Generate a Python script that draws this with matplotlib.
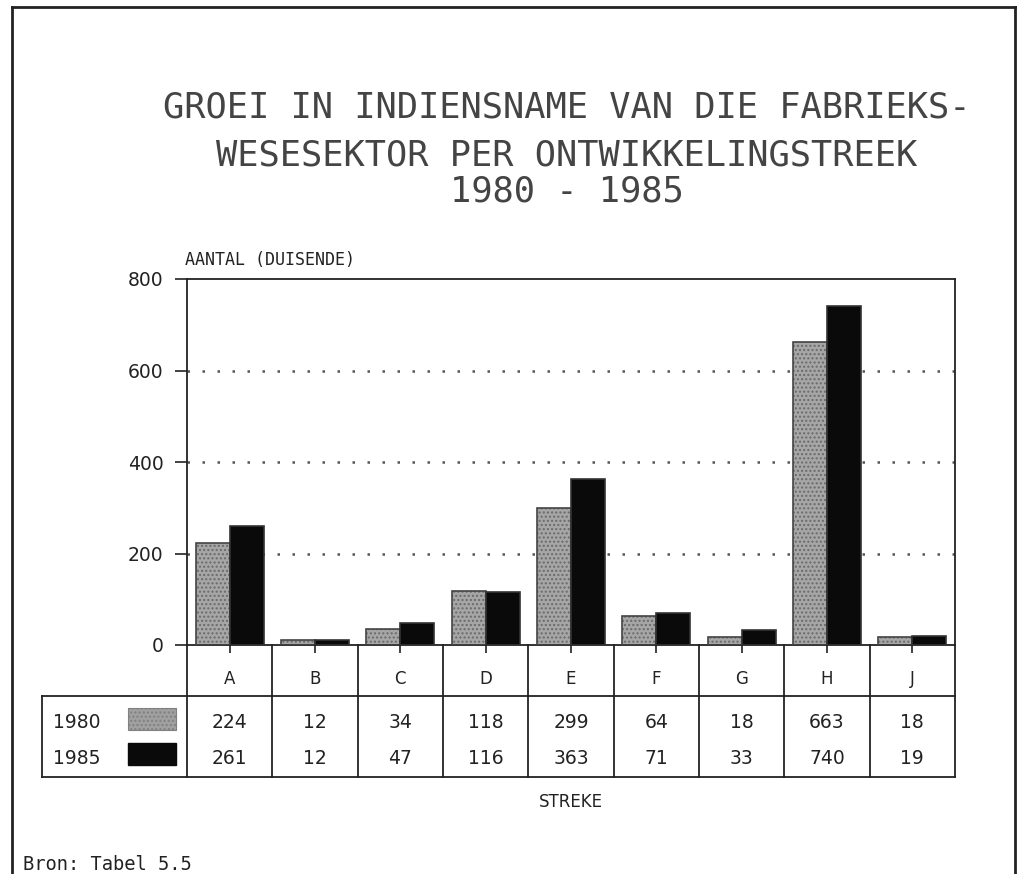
import numpy as np
import matplotlib
matplotlib.use("Agg")
import matplotlib.pyplot as plt
from matplotlib.lines import Line2D

# data
regions = ['A', 'B', 'C', 'D', 'E', 'F', 'G', 'H', 'J']
years = ['1980', '1985']
v1980 = [224, 12, 34, 118, 299, 64, 18, 663, 18]
v1985 = [261, 12, 47, 116, 363, 71, 33, 740, 19]
yticks = [0, 200, 400, 600, 800]

title_lines = ['GROEI IN INDIENSNAME VAN DIE FABRIEKS-',
               'WESESEKTOR PER ONTWIKKELINGSTREEK',
               '1980 - 1985']

ink = '#222222'
mono = 'DejaVu Sans Mono'

fig = plt.figure(figsize=(10.17, 8.74), dpi=100)
ax = fig.add_axes([187/1017, 1-645/874, 768/1017, 366/874])

x = np.arange(len(regions))
w = 0.4

# gray stippled bars (hatch only, then outline)
ax.bar(x - w/2, v1980, w, color='#a6a6a6', hatch='....', edgecolor='#6a6a6a',
       linewidth=0, zorder=2)
ax.bar(x - w/2, v1980, w, fill=False, edgecolor='#444444', linewidth=1.2, zorder=3)
ax.bar(x + w/2, v1985, w, color='#0a0a0a', edgecolor='#333333', linewidth=1.2, zorder=3)

ax.set_xlim(-0.5, len(regions) - 0.5)
ax.set_ylim(0, 800)
ax.set_yticks(yticks)
ax.set_yticklabels([str(t) for t in yticks], fontsize=13.5, color=ink)
ax.set_xticks(x)
ax.set_xticklabels([])
ax.tick_params(axis='y', direction='out', length=9, width=1.2, pad=8, colors=ink)
ax.tick_params(axis='x', direction='out', length=6, width=1.2, colors=ink)
for s in ax.spines.values():
    s.set_linewidth(1.3)
    s.set_color(ink)

for g in yticks[1:-1]:
    ax.axhline(g, color='#555555', linestyle=(0, (1, 5)), linewidth=1.8, zorder=1)

# table below the axis
kw = dict(transform=ax.transAxes, clip_on=False, color=ink, linewidth=1.3)
row1 = -0.139
bottom = -0.361
left = -0.189
ax.plot([left, 1], [row1, row1], **kw)
ax.plot([left, 1], [bottom, bottom], **kw)
ax.plot([left, left], [row1, bottom], **kw)
xt = ax.get_xaxis_transform()
for b in np.arange(len(regions) + 1) - 0.5:
    ax.plot([b, b], [0, bottom], transform=xt, clip_on=False, color=ink, linewidth=1.3)

for i, r in enumerate(regions):
    ax.text(i, -0.093, r, transform=xt, ha='center', va='center', fontsize=12, color=ink)
    ax.text(i, -0.213, str(v1980[i]), transform=xt, ha='center', va='center',
            fontsize=13.5, color=ink)
    ax.text(i, -0.309, str(v1985[i]), transform=xt, ha='center', va='center',
            fontsize=13.5, color=ink)

# legend inside the table
ax.text(-0.1745, -0.213, years[0], transform=ax.transAxes, ha='left', va='center',
        fontsize=13.5, color=ink)
ax.text(-0.1745, -0.309, years[1], transform=ax.transAxes, ha='left', va='center',
        fontsize=13.5, color=ink)
sw1 = plt.Rectangle((-0.0768, -0.232), 0.0625, 0.060, transform=ax.transAxes,
                    clip_on=False, facecolor='#a0a0a0', hatch='....', edgecolor='#808080',
                    linewidth=0.8)
sw2 = plt.Rectangle((-0.0768, -0.328), 0.0625, 0.060, transform=ax.transAxes,
                    clip_on=False, facecolor='#0a0a0a', edgecolor='#0a0a0a')
ax.add_patch(sw1)
ax.add_patch(sw2)

ax.text(0.5, -0.429, 'STREKE', transform=ax.transAxes, ha='center', va='center',
        fontsize=12, color=ink)
ax.text(-0.003, 1.052, 'AANTAL (DUISENDE)', transform=ax.transAxes, ha='left',
        va='center', fontsize=12, color=ink, family=mono)

# title
for line, yy in zip(title_lines, [107, 155, 192]):
    fig.text(567/1017, 1 - yy/874, line, ha='center', va='center', fontsize=25.5,
             color='#444444', family=mono)

fig.text(23/1017, 1 - 865/874, 'Bron: Tabel 5.5', ha='left', va='center',
         fontsize=13.5, color=ink, family=mono)

# outer frame
fk = dict(transform=fig.transFigure, color=ink, linewidth=2)
fig.add_artist(Line2D([12/1017, 12/1017], [0, 1 - 7/874], **fk))
fig.add_artist(Line2D([12/1017, 1015/1017], [1 - 7/874, 1 - 7/874], **fk))
fig.add_artist(Line2D([1015/1017, 1015/1017], [1 - 7/874, 0], **fk))

fig.savefig('out.png', dpi=100)
